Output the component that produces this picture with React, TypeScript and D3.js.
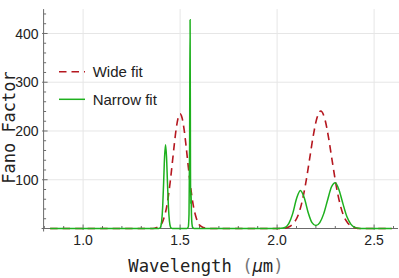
import React from "react";
import * as d3 from "d3";

// wide fit
const wideWl = [0.83, 1.36, 1.38, 1.40, 1.41, 1.42, 1.43, 1.44, 1.45, 1.46, 1.47, 1.48, 1.49, 1.50, 1.51, 1.52, 1.53, 1.54, 1.55, 1.56, 1.57, 1.58, 1.59, 1.60, 1.62, 1.64,
  2.025, 2.045, 2.065, 2.085, 2.105, 2.125, 2.145, 2.165, 2.185, 2.205, 2.225, 2.245, 2.265, 2.285, 2.305, 2.325, 2.345, 2.365, 2.385, 2.405, 2.425, 2.59];
const wideVal = [0, 0, 2, 7, 14, 26, 43, 68, 99, 135, 172, 205, 227, 235, 227, 205, 172, 135, 99, 68, 43, 26, 14, 7, 2, 0,
  0, 1, 4, 11, 24, 49, 87, 136, 187, 226, 241, 226, 187, 136, 87, 49, 24, 11, 4, 1, 0, 0];

// narrow fit
const narrowWl = [0.83, 1.39, 1.395, 1.40, 1.405, 1.41, 1.415, 1.42, 1.425, 1.43, 1.435, 1.44, 1.445, 1.45, 1.455, 1.46,
  1.535, 1.542, 1.546, 1.549, 1.5515, 1.5535, 1.555, 1.5565, 1.558, 1.561, 1.565, 1.572,
  2.00, 2.02, 2.04, 2.06, 2.08, 2.10, 2.12, 2.14, 2.16, 2.18, 2.20, 2.22, 2.24, 2.26, 2.28, 2.30, 2.32, 2.34, 2.36, 2.38, 2.40, 2.42, 2.44, 2.59];
const narrowVal = [0, 0, 0.6, 3.6, 15, 43, 93, 147, 172, 147, 93, 43, 15, 3.6, 0.6, 0,
  0, 3, 30, 170, 428, 120, 50, 75, 40, 10, 2, 0,
  0, 0.3, 2, 10, 30, 61, 78, 63, 33, 12, 6, 12, 30, 58, 85, 94, 78, 50, 24, 9, 2.4, 0.5, 0, 0];

const xTicks = [1.0, 1.5, 2.0, 2.5];
const yTicks = [100, 200, 300, 400];

const RED = "#b5171f";
const GREEN = "#1eb01e";

export default function App() {
  const W = 399, H = 278;
  const x = d3.scaleLinear().domain([0.8, 2.6]).range([44.3, 393.5]);
  const y = d3.scaleLinear().domain([0, 450]).range([228.5, 9.1]);

  const wide = wideWl.map((w, i) => [w, wideVal[i]] as [number, number]);
  const narrow = narrowWl.map((w, i) => [w, narrowVal[i]] as [number, number]);
  const line = d3.line<[number, number]>()
    .x(d => x(d[0]))
    .y(d => y(d[1]))
    .curve(d3.curveMonotoneX);

  const x0 = x(0.8) - 0.7;
  const xMinor = d3.range(0.8, 2.61, 0.1).filter(v => !xTicks.some(t => Math.abs(t - v) < 1e-6));
  const yMinor = d3.range(20, 441, 20).filter(v => v % 100 !== 0);
  const axisCol = "#6b6b6b";
  const tickFont = "'Liberation Sans', Arial, sans-serif";
  const mono = "'DejaVu Sans Mono', monospace";

  return (
    <svg width={W} height={H} style={{ position: "absolute", left: 0, top: 0 }}>
      <rect width={W} height={H} fill="white" />
      {/* grid */}
      {xTicks.map(t => (
        <line key={"gx" + t} x1={x(t)} x2={x(t)} y1={y(450)} y2={y(0)} stroke="#e6e6e6" />
      ))}
      {yTicks.map(t => (
        <line key={"gy" + t} x1={x0} x2={W} y1={y(t)} y2={y(t)} stroke="#e6e6e6" />
      ))}
      {/* axes */}
      <line x1={x0} x2={x0} y1={y(450)} y2={y(0) + 3} stroke={axisCol} />
      <line x1={x0 - 2} x2={W - 1} y1={y(0)} y2={y(0)} stroke={axisCol} />
      {xTicks.map(t => (
        <g key={"xt" + t}>
          <line x1={x(t)} x2={x(t)} y1={y(0) - 4} y2={y(0) + 1.5} stroke={axisCol} />
          <text x={x(t)} y={244.5} textAnchor="middle" fontFamily={tickFont} fontSize={14} fill="#222">
            {t.toFixed(1)}
          </text>
        </g>
      ))}
      {xMinor.map(t => (
        <line key={"xm" + t} x1={x(t)} x2={x(t)} y1={y(0) - 2.5} y2={y(0)} stroke={axisCol} />
      ))}
      {yTicks.map(t => (
        <g key={"yt" + t}>
          <line x1={x0 - 1.5} x2={x0 + 4} y1={y(t)} y2={y(t)} stroke={axisCol} />
          <text x={38.5} y={y(t)} dy="0.36em" textAnchor="end" fontFamily={tickFont} fontSize={14} fill="#222">
            {t}
          </text>
        </g>
      ))}
      {yMinor.map(t => (
        <line key={"ym" + t} x1={x0} x2={x0 + 2.5} y1={y(t)} y2={y(t)} stroke={axisCol} />
      ))}
      {/* curves */}
      <path d={line(wide) ?? ""} fill="none" stroke={RED} strokeWidth={1.6} strokeDasharray="7.5,5" />
      <path d={line(narrow) ?? ""} fill="none" stroke={GREEN} strokeWidth={1.5} />
      {/* legend */}
      <line x1={59} x2={85} y1={71.7} y2={71.7} stroke={RED} strokeWidth={1.6} strokeDasharray="7.5,5" />
      <text x={92.7} y={71.7} dy="0.36em" fontFamily={tickFont} fontSize={15} fill="#222">Wide fit</text>
      <line x1={59} x2={85} y1={99.3} y2={99.3} stroke={GREEN} strokeWidth={1.5} />
      <text x={92.7} y={99.3} dy="0.36em" fontFamily={tickFont} fontSize={15} fill="#222">Narrow fit</text>
      {/* axis titles */}
      <text x={128.3} y={271.7} fontFamily={mono} fontSize={17.2} fill="#222">
        Wavelength <tspan fill="#777">(</tspan><tspan fontStyle="italic">μ</tspan>m<tspan fill="#777">)</tspan>
      </text>
      <text transform="translate(14.5,127.5) rotate(-90)" textAnchor="middle" fontFamily={mono} fontSize={17} fill="#222">
        Fano Factor
      </text>
    </svg>
  );
}
